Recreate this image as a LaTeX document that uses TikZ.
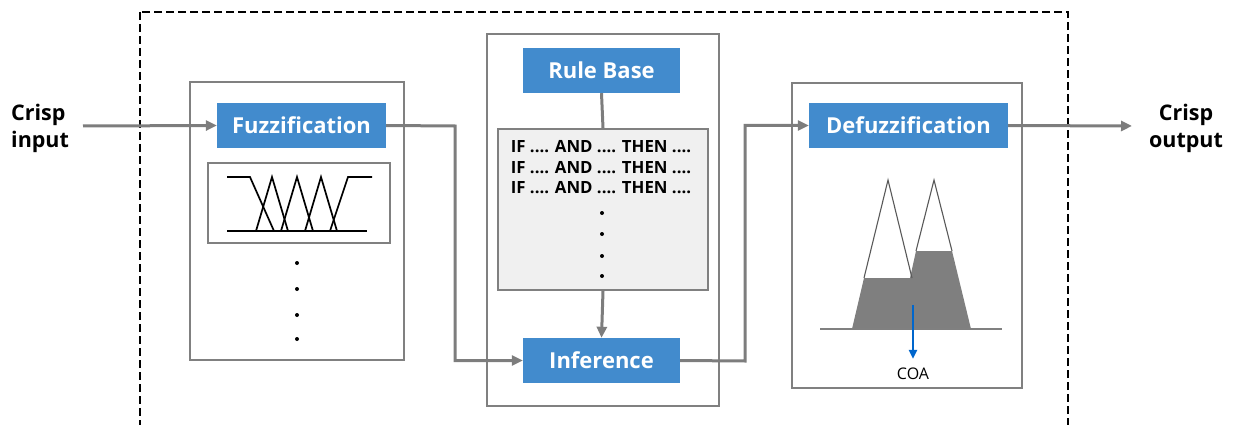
\documentclass[tikz,border=0pt]{standalone}
\usepackage{fontspec}
\setmainfont{Open Sans}
\usetikzlibrary{arrows.meta}
\definecolor{blu}{RGB}{66,139,205}
\definecolor{edge}{RGB}{128,128,128}
\definecolor{rulefill}{RGB}{240,240,240}
\definecolor{conn}{RGB}{125,125,125}
\definecolor{darkfill}{RGB}{127,127,127}
\definecolor{coablue}{RGB}{0,102,204}
\begin{document}
\begin{tikzpicture}[x=1pt,y=-1pt,
  bluebox/.style={fill=blu, text=white, font=\fontsize{22}{26}\selectfont\bfseries,
    minimum width=#1, minimum height=45pt, inner sep=0pt},
  groupbox/.style={draw=edge, line width=1.8pt, inner sep=0pt},
  connector/.style={draw=conn, line width=3pt, -{Triangle[length=11pt,width=10pt]}},
  plainconn/.style={draw=conn, line width=3pt},
  label/.style={font=\fontsize{21.5}{27}\selectfont\bfseries, inner sep=0pt},
  dotmark/.style={fill=black, circle, inner sep=0pt, minimum size=4pt},
  mfline/.style={black, line width=1.7pt},
]
\useasboundingbox (0,0) rectangle (1236,425);
\clip (0,0) rectangle (1236,425);

% dashed system border
\draw[black, line width=2.8pt, dash pattern=on 8pt off 4pt] (140,12) rectangle (1068,445);

% group boxes
\node[groupbox, minimum width=214pt, minimum height=278pt] (g1) at (297,221) {};
\node[groupbox, minimum width=232pt, minimum height=372pt] (g2) at (603,220) {};
\node[groupbox, minimum width=230pt, minimum height=305pt] (g3) at (907,235.5) {};

% blue blocks
\node[bluebox=169pt] (fuzz) at (301.5,125.5) {Fuzzification};
\node[bluebox=157pt] (rb) at (601.5,70.5) {Rule Base};
\node[bluebox=157pt] (inf) at (601.5,360.5) {Inference};
\node[bluebox=199pt] (defuzz) at (908.5,125.5) {Defuzzification};

% rules box
\node[draw=edge, fill=rulefill, line width=1.8pt, minimum width=210pt, minimum height=161pt, inner sep=0pt] (rules) at (603,209.5) {};
\node[font=\fontsize{16.8}{20.5}\selectfont\bfseries, align=left, inner sep=0pt] (rtext) at (601,167.5)
  {IF .... AND .... THEN ....\\IF .... AND .... THEN ....\\IF .... AND .... THEN ....};
\foreach \y [count=\i] in {213,234,256,276} \node[dotmark] (rd\i) at (602,\y) {};

% membership function plot
\node[draw=edge, line width=1.8pt, minimum width=182pt, minimum height=80pt, inner sep=0pt] (mf) at (299,203) {};
\draw[mfline] (227,231) -- (367,231);
\draw[mfline] (227,177) -- (250,177) -- (274,231);
\draw[mfline] (256,231) -- (272,177) -- (288,231);
\draw[mfline] (281,231) -- (297,177) -- (313,231);
\draw[mfline] (305,231) -- (321,177) -- (337,231);
\draw[mfline] (330,231) -- (348,177) -- (372,177);
\foreach \y [count=\i] in {263,289,315,339} \node[dotmark] (fd\i) at (297,\y) {};

% defuzzification plot
\fill[darkfill] (852,329) -- (864,278) -- (910,278) -- (916,251) -- (952,251) -- (971,329) -- cycle;
\draw[edge, line width=1.8pt] (820,329) -- (1002,329);
\draw[black!65, line width=1.1pt] (864,278) -- (888,180) -- (912,278);
\draw[black!65, line width=1.1pt] (916,251) -- (934,180) -- (952,251);
\coordinate (coatop) at (913,305);
\node[font=\fontsize{16}{18}\selectfont, inner sep=0pt] (coa) at (913,374) {COA};
\draw[coablue, line width=2.6pt, shorten >=9pt, -{Triangle[length=9pt,width=8pt]}] (coatop) -- (coa.north);

% external labels
\node[label, align=left, anchor=west] (cin) at (11,128) {Crisp\\input};
\node[label, align=center] (cout) at (1186,128) {Crisp\\output};

% connectors
\coordinate (inp) at (83,126);
\coordinate (outp) at (1132,126);
\coordinate (j1) at (455,126);
\coordinate (j2) at (745,361);
\draw[connector] (inp) -- (fuzz.west);
\draw[connector] (fuzz.east) -- (j1) |- (inf.west);
\draw[connector] (inf.east) -- (j2) |- (defuzz.west);
\draw[connector] (defuzz.east) -- (outp);
\draw[plainconn] (rb.south) -- (rules.north);
\draw[connector] (rules.south) -- (inf.north);
\end{tikzpicture}
\end{document}
